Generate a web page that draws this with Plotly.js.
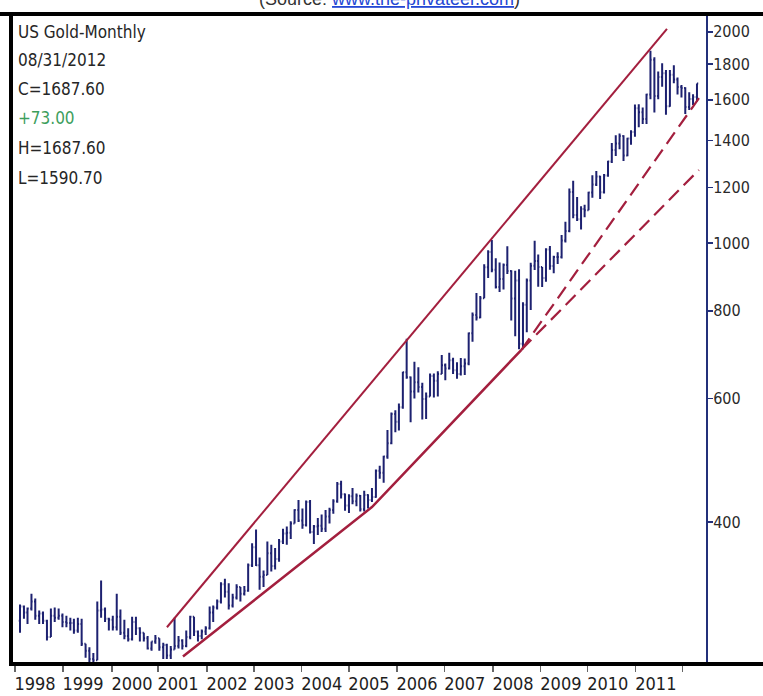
<!DOCTYPE html>
<html>
<head>
<meta charset="utf-8">
<script src="https://cdn.plot.ly/plotly-3.0.1.min.js"></script>
<style>
html,body{margin:0;padding:0;background:#ffffff;}
#chart{width:763px;height:696px;}
</style>
</head>
<body>
<div id="chart"></div>
<script>
// ---------------- DATA ----------------
const startYear = 1998; // first bar: Jan 1998, last bar: Aug 2012 (monthly)

const openPx = [
  289,303,297,301,308,294,296,289,274,294,292,294,
  288,287,287,280,286,268,262,255,254,299,300,291,
  290,283,293,278,275,272,288,282,278,273,264,270,
  273,265,267,258,263,266,271,266,274,293,279,275,
  279,282,297,302,308,326,318,304,312,323,316,319,
  347,368,347,334,336,361,346,354,375,385,386,398,
  416,402,396,427,387,394,395,391,407,416,428,453,
  438,422,435,428,436,417,437,430,434,473,470,496,
  518,570,556,583,654,643,614,633,623,599,604,646,
  636,650,669,662,680,658,650,667,673,743,789,783,
  834,923,971,916,865,888,930,912,833,884,718,816,
  884,928,942,924,891,979,927,955,955,1008,1040,1182,
  1096,1081,1118,1113,1180,1212,1244,1181,1248,1307,1357,1386,
  1421,1333,1409,1439,1556,1536,1502,1628,1825,1620,1725,1746,
  1566,1737,1711,1669,1664,1563,1604,1615
];
const highPx = [
  305,304,302,316,311,299,298,290,301,302,301,296,
  294,292,291,292,291,268,265,260,308,330,302,292,
  294,316,300,290,282,293,293,283,278,275,270,276,
  273,269,268,266,292,275,272,280,294,293,280,281,
  284,303,304,310,328,332,327,316,326,323,324,349,
  373,390,356,341,375,371,367,378,391,394,401,417,
  430,418,429,430,396,405,410,416,419,431,456,458,
  439,438,447,439,437,443,438,447,475,481,497,541,
  573,577,590,655,730,645,677,665,632,612,651,651,
  656,692,673,697,686,676,685,684,745,796,848,840,
  932,976,1010,951,938,935,989,914,913,917,823,890,
  937,1007,963,924,983,990,959,970,1026,1072,1196,1227,
  1163,1128,1134,1183,1249,1266,1247,1254,1310,1388,1424,1432,
  1424,1413,1448,1575,1577,1560,1632,1880,1840,1756,1804,1764,
  1764,1792,1721,1680,1667,1640,1630,1688
];
const lowPx = [
  278,291,286,299,290,286,286,271,274,288,290,283,
  283,280,277,278,266,256,252,251,254,292,288,280,
  280,280,276,272,270,271,276,270,270,263,262,268,
  262,255,255,255,263,264,263,265,272,275,270,272,
  276,281,288,300,306,312,300,302,310,308,314,318,
  345,346,320,323,336,340,342,351,372,371,378,398,
  400,391,394,385,372,383,387,387,398,411,426,432,
  415,412,424,421,414,414,418,427,433,461,455,492,
  516,537,540,580,640,555,600,612,560,561,604,602,
  604,650,637,660,650,640,647,648,669,723,775,781,
  834,891,908,861,851,858,903,775,736,705,705,746,
  802,915,866,865,880,916,905,933,950,1001,1036,1084,
  1075,1045,1088,1113,1160,1206,1155,1176,1243,1300,1330,1360,
  1309,1329,1381,1417,1462,1478,1478,1603,1535,1603,1670,1523,
  1564,1690,1628,1612,1527,1548,1573,1591
];
const closePx = [
  303,297,301,308,294,296,289,274,294,292,294,288,
  287,287,280,286,268,262,255,254,299,300,291,290,
  283,293,278,275,272,288,282,278,273,264,270,273,
  265,267,258,263,266,271,266,274,293,279,275,279,
  282,297,302,308,326,318,304,312,323,316,319,347,
  368,347,334,336,361,346,354,375,385,386,398,416,
  402,396,427,387,394,395,391,407,416,428,453,438,
  422,435,428,436,417,437,430,434,473,470,496,518,
  570,556,583,654,643,614,633,623,599,604,646,636,
  650,669,662,680,658,650,667,673,743,789,783,834,
  923,971,916,865,888,930,912,833,884,718,816,884,
  928,942,924,891,979,927,955,955,1008,1040,1182,1096,
  1081,1118,1113,1180,1212,1244,1181,1248,1307,1357,1386,1421,
  1333,1409,1439,1556,1536,1502,1628,1825,1620,1725,1746,1566,
  1737,1711,1669,1664,1563,1604,1615,1688
];

// trend lines (date, price) endpoints
const upperChannelX = ['2001-03-02', '2011-12-09'];
const upperChannelY = [283, 2020];
const lowerSupportX = ['2001-07-06', '2005-08-01', '2008-10-20'];
const lowerSupportY = [257, 420, 704];
const steepDashX = ['2008-10-20', '2012-08-24'];
const steepDashY = [704, 1616];
const shallowDashX = ['2008-10-20', '2012-08-16'];
const shallowDashY = [704, 1271];

// axis ticks
const yearTickDates = ['1997-11-23','1998-12-05','1999-12-26','2000-12-22','2002-01-11','2003-01-16',
  '2004-01-27','2005-02-01','2006-02-14','2007-02-25','2008-03-10','2009-03-22','2010-03-26',
  '2011-04-08','2012-04-12'];
const yearLabels = ['1998','1999','2000','2001','2002','2003','2004','2005','2006','2007','2008',
  '2009','2010','2011',''];
const priceTicks = [400, 600, 800, 1000, 1200, 1400, 1600, 1800, 2000];

// header text
const infoLines = ['US Gold-Monthly', '08/31/2012', 'C=1687.60', '+73.00', 'H=1687.60', 'L=1590.70'];
const sourceLabel = '(Source: ';
const sourceLink = 'www.the-privateer.com';

// ---------------- STYLE ----------------
const NAVY = '#1d2170';
const AXIS = '#23307a';
const RED = '#a31f3e';
const FONT = "'Liberation Sans Narrow', 'Arial Narrow', 'DejaVu Sans Condensed', sans-serif";
const W = 763, H = 696;
const M = {l: 12, r: 57, t: 15, b: 31};
const plotW = W - M.l - M.r, plotH = H - M.t - M.b;
const pX = px => (px - M.l) / plotW;
const pY = py => (H - M.b - py) / plotH;

const monthDates = openPx.map((_, i) => {
  const y = startYear + Math.floor(i / 12);
  const m = (i % 12) + 1;
  return y + '-' + String(m).padStart(2, '0') + '-01';
});

const traces = [
  {
    type: 'ohlc', x: monthDates, open: openPx, high: highPx, low: lowPx, close: closePx,
    increasing: {line: {color: NAVY, width: 2}},
    decreasing: {line: {color: NAVY, width: 2}},
    tickwidth: 0.35, hoverinfo: 'skip', showlegend: false
  },
  {type: 'scatter', mode: 'lines', x: upperChannelX, y: upperChannelY,
   line: {color: RED, width: 2}, hoverinfo: 'skip'},
  {type: 'scatter', mode: 'lines', x: lowerSupportX, y: lowerSupportY,
   line: {color: RED, width: 2.5}, hoverinfo: 'skip'},
  {type: 'scatter', mode: 'lines', x: steepDashX, y: steepDashY,
   line: {color: RED, width: 2.2, dash: '14px,7px'}, hoverinfo: 'skip'},
  {type: 'scatter', mode: 'lines', x: shallowDashX, y: shallowDashY,
   line: {color: RED, width: 2.2, dash: '14px,7px'}, hoverinfo: 'skip'}
];

const infoCenters = [32, 60, 89, 118.5, 148, 177.5];
const annotations = infoLines.map((t, i) => ({
  xref: 'paper', yref: 'paper', x: pX(16), y: pY(infoCenters[i]),
  xanchor: 'left', yanchor: 'middle', showarrow: false, text: t,
  font: {family: FONT, size: 17, color: t.charAt(0) === '+' ? '#3d9e5c' : '#262626'}
}));
annotations.push({
  xref: 'paper', yref: 'paper', x: pX(257), y: pY(-1),
  xanchor: 'left', yanchor: 'middle', showarrow: false,
  text: sourceLabel + '<span style="color:#2447d4"><u>' + sourceLink + '</u></span>)',
  font: {family: "'Liberation Sans', Arial, sans-serif", size: 18, color: '#333333'}
});

const shapes = [
  {type: 'line', xref: 'paper', yref: 'paper', x0: pX(0), x1: pX(W), y0: pY(14), y1: pY(14),
   line: {color: '#000', width: 4}},
  {type: 'line', xref: 'paper', yref: 'paper', x0: pX(11), x1: pX(11), y0: pY(12), y1: pY(666),
   line: {color: '#000', width: 4}},
  {type: 'line', xref: 'paper', yref: 'paper', x0: pX(9), x1: pX(W), y0: pY(664), y1: pY(664),
   line: {color: '#000', width: 4}}
];

const layout = {
  width: W, height: H,
  margin: {l: M.l, r: M.r, t: M.t, b: M.b, pad: 0},
  paper_bgcolor: '#ffffff', plot_bgcolor: '#ffffff',
  showlegend: false,
  xaxis: {
    type: 'date', range: ['1997-10-30', '2012-10-11'],
    rangeslider: {visible: false},
    showgrid: false, zeroline: false, showline: false,
    tickmode: 'array', tickvals: yearTickDates, ticktext: yearLabels,
    tickangle: 0, automargin: false,
    ticks: 'outside', ticklen: 6, tickwidth: 1.2, tickcolor: '#666666',
    ticklabelshift: 20, ticklabelstandoff: -4,
    tickfont: {family: FONT, size: 18, color: '#1e1e1e'}
  },
  yaxis: {
    type: 'log', side: 'right', automargin: false,
    range: [Math.log10(250), Math.log10(2114)],
    tickmode: 'array', tickvals: priceTicks, ticktext: priceTicks.map(String),
    ticks: 'outside', ticklen: 5, tickwidth: 1.5, tickcolor: AXIS,
    ticklabelstandoff: -3,
    showline: true, linecolor: AXIS, linewidth: 2,
    showgrid: false, zeroline: false,
    tickfont: {family: FONT, size: 16, color: '#2a2a2a'}
  },
  shapes: shapes,
  annotations: annotations
};

Plotly.newPlot('chart', traces, layout, {staticPlot: true, displayModeBar: false});
</script>
</body>
</html>
